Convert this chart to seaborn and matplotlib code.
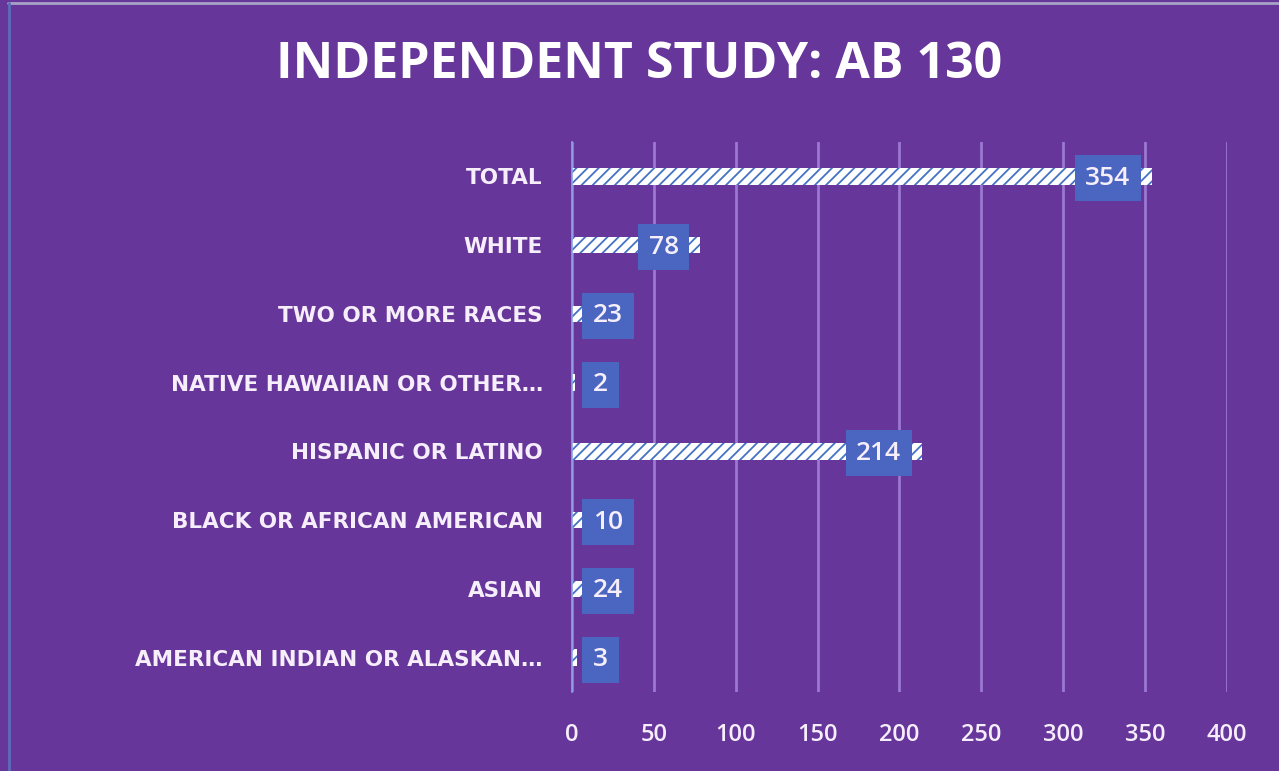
import pandas as pd
import matplotlib.pyplot as plt
import seaborn as sns

# Data
categories = [
    "TOTAL",
    "WHITE",
    "TWO OR MORE RACES",
    "NATIVE HAWAIIAN OR OTHER…",
    "HISPANIC OR LATINO",
    "BLACK OR AFRICAN AMERICAN",
    "ASIAN",
    "AMERICAN INDIAN OR ALASKAN…",
]
students = [354, 78, 23, 2, 214, 10, 24, 3]
x_ticks = [0, 50, 100, 150, 200, 250, 300, 350, 400]

df = pd.DataFrame({"group": categories, "students": students})

# Colours
bg = "#66369A"
stripe = "#4472C4"
label_box = "#4A66C0"
text_col = "#F6EEFA"

sns.set_theme(style="white")
plt.rcParams["font.family"] = ["Open Sans", "DejaVu Sans"]
plt.rcParams["hatch.linewidth"] = 1.3

fig = plt.figure(figsize=(12.79, 7.71), dpi=100, facecolor=bg)
ax = fig.add_axes([0.4472, 0.1025, 0.5121, 0.7133])
ax.set_facecolor(bg)

sns.barplot(data=df, x="students", y="group", orient="h", color="white",
            edgecolor=stripe, linewidth=0, hatch="///", width=0.24,
            saturation=1, ax=ax)

ax.set_xlim(0, 400)
ax.set_xticks(x_ticks)
ax.set_xticklabels([str(t) for t in x_ticks], fontsize=17, fontweight="semibold",
                   color=text_col)
ax.set_yticks(range(len(categories)))
ax.set_yticklabels(categories, fontsize=15.5, fontweight="bold", color=text_col,
                   family=["DejaVu Sans"])
ax.tick_params(axis="y", length=0, pad=21)
ax.tick_params(axis="x", length=0, pad=22)
ax.set_xlabel("")
ax.set_ylabel("")

# Gridlines
ax.grid(axis="x", color="#9B78D2", linewidth=2)
ax.set_axisbelow(True)
for side in ["top", "right", "bottom"]:
    ax.spines[side].set_visible(False)
ax.spines["left"].set_color("#8FA3E8")
ax.spines["left"].set_linewidth(1.2)
ax.spines["left"].set_zorder(5)

# Data labels in blue boxes
for i, v in enumerate(students):
    if v > 45:
        ax.annotate(str(v), xy=(v, i), xytext=(-21, -2), textcoords="offset pixels",
                    ha="right", va="center", fontsize=19, fontweight="semibold",
                    color=text_col,
                    bbox=dict(boxstyle="square,pad=0.4", fc=label_box, ec="none"),
                    zorder=6)
    else:
        ax.annotate(str(v), xy=(0, i), xytext=(21, -2), textcoords="offset pixels",
                    ha="left", va="center", fontsize=19, fontweight="semibold",
                    color=text_col,
                    bbox=dict(boxstyle="square,pad=0.4", fc=label_box, ec="none"),
                    zorder=6)

fig.suptitle("INDEPENDENT STUDY: AB 130", y=0.916, va="center",
             fontsize=36, fontweight="bold", color="white")

# Thin slide frame on top and left
fig.add_artist(plt.Line2D([0.006, 1], [0.996, 0.996], color="#A7A3C6", linewidth=2,
                          transform=fig.transFigure))
fig.add_artist(plt.Line2D([0.007, 0.007], [0, 0.996], color="#5C6CB8", linewidth=2,
                          transform=fig.transFigure))

plt.savefig("out.png", dpi=100, facecolor=bg)
